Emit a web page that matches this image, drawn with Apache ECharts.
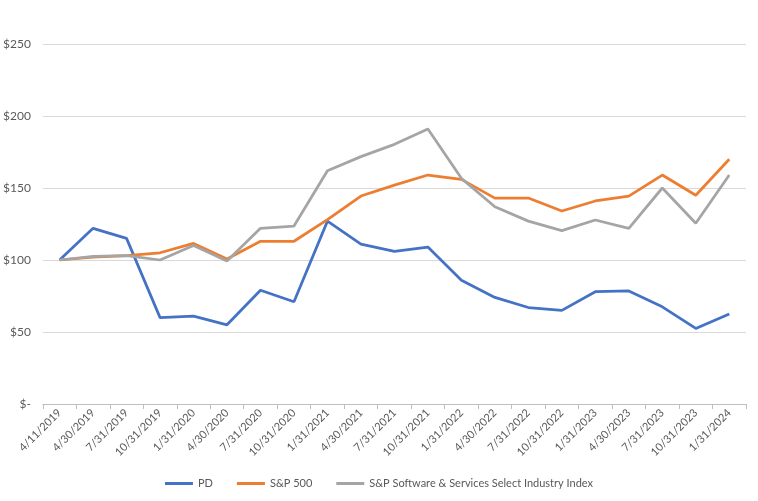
<!DOCTYPE html>
<html><head><meta charset="utf-8">
<script src="https://cdn.jsdelivr.net/npm/echarts@6/dist/echarts.min.js"></script>
<style>html,body{margin:0;padding:0;background:#fff}#c{width:758px;height:501px}</style>
</head><body><div id="c"></div>
<script>
const categories = ['4/11/2019','4/30/2019','7/31/2019','10/31/2019','1/31/2020','4/30/2020','7/31/2020','10/31/2020','1/31/2021','4/30/2021','7/31/2021','10/31/2021','1/31/2022','4/30/2022','7/31/2022','10/31/2022','1/31/2023','4/30/2023','7/31/2023','10/31/2023','1/31/2024'];
const pd = [100,122,115,60,61,55,79,71,127,111,106,109,86,74,67,65,78,78.5,67.5,52.5,62.5];
const sp500 = [100,102,103,105,111.5,100.7,113,113,128,144.4,152,159,156,143,143,134,141,144.4,159,145,170];
const spSoftware = [100,102.5,103,100,110,99.3,122,123.6,162,171.8,180.3,191,156.7,137,127,120.4,127.8,122,150,125.5,159];
const yTicks = [0,50,100,150,200,250];

const chart = echarts.init(document.getElementById('c'), null, {renderer:'canvas'});
const font = 'Lato, "Open Sans", sans-serif';
chart.setOption({
  animation:false,
  textStyle:{fontFamily:font},
  grid:{left:38,right:12,top:44,bottom:97},
  legend:{
    bottom:7,left:'center',
    icon:'rect',itemWidth:28,itemHeight:3,itemGap:24,
    textStyle:{color:'#595959',fontSize:11,fontFamily:font},
    data:['PD','S&P 500','S&P Software & Services Select Industry Index']
  },
  xAxis:{
    type:'category',data:categories,boundaryGap:true,
    axisLine:{lineStyle:{color:'#bfbfbf'}},
    axisTick:{show:true,length:5,lineStyle:{color:'#bfbfbf'}},
    axisLabel:{rotate:45,color:'#595959',fontSize:11,interval:0,margin:7,fontFamily:font}
  },
  yAxis:{
    type:'value',min:yTicks[0],max:yTicks[yTicks.length-1],interval:50,
    axisLine:{show:false},axisTick:{show:false},
    splitLine:{lineStyle:{color:'#d9d9d9'}},
    axisLabel:{color:'#595959',fontSize:12,margin:12,fontFamily:font,
      formatter:v=> v===0 ? '$-' : '$'+v}
  },
  series:[
    {name:'PD',type:'line',data:pd,showSymbol:false,symbol:'none',lineStyle:{color:'#4472C4',width:2.75},itemStyle:{color:'#4472C4'}},
    {name:'S&P 500',type:'line',data:sp500,showSymbol:false,symbol:'none',lineStyle:{color:'#ED7D31',width:2.75},itemStyle:{color:'#ED7D31'}},
    {name:'S&P Software & Services Select Industry Index',type:'line',data:spSoftware,showSymbol:false,symbol:'none',lineStyle:{color:'#A5A5A5',width:2.75},itemStyle:{color:'#A5A5A5'}}
  ]
});
</script></body></html>
